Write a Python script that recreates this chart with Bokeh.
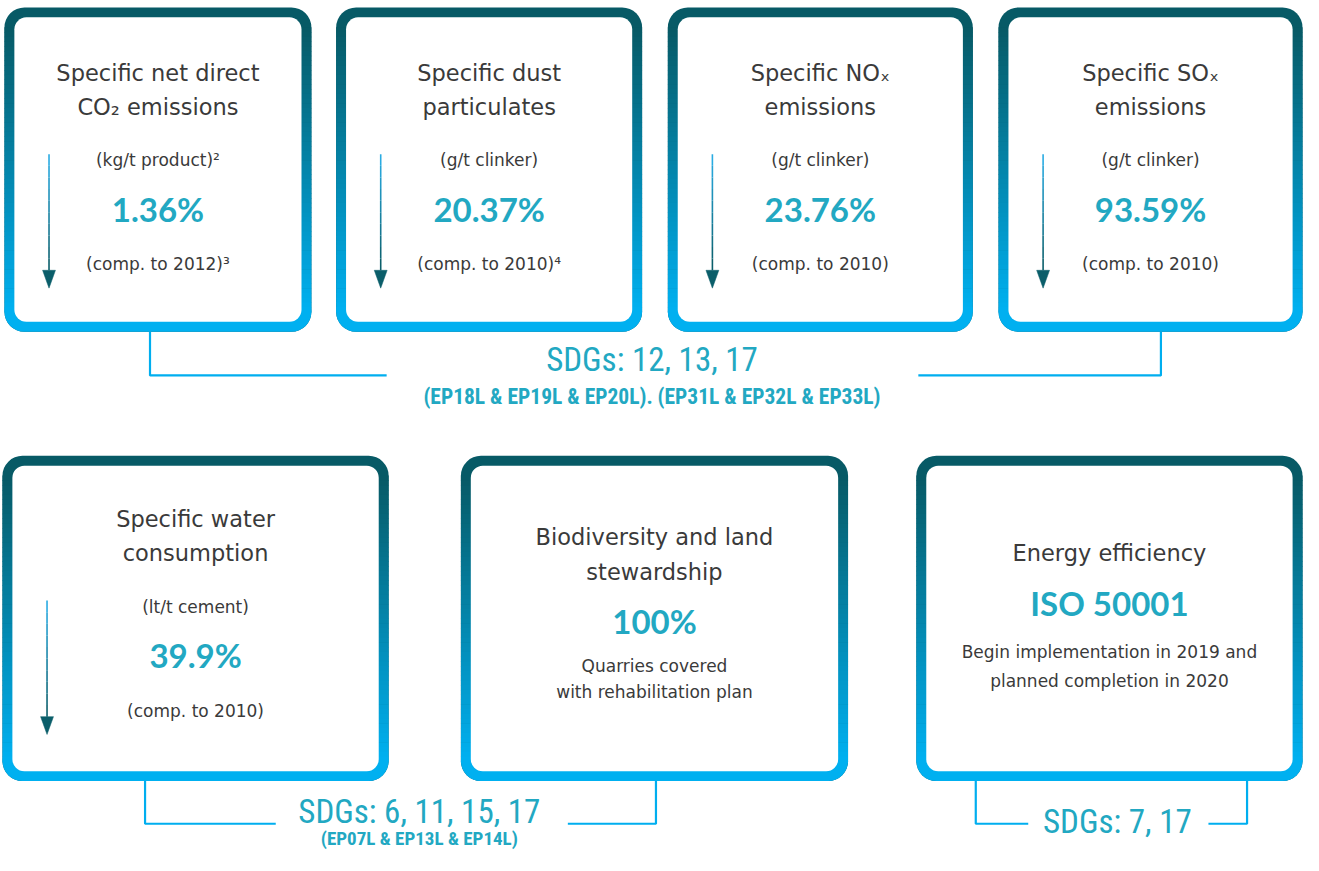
import numpy as np
from bokeh.plotting import figure
from bokeh.models import Range1d
from bokeh.core.properties import value
from bokeh.embed import file_html
from bokeh.resources import INLINE

# ---------------- data ----------------
box_titles = [
    ["Specific net direct", "CO\u2082 emissions"],
    ["Specific dust", "particulates"],
    ["Specific NO\u2093", "emissions"],
    ["Specific SO\u2093", "emissions"],
    ["Specific water", "consumption"],
    ["Biodiversity and land", "stewardship"],
    ["Energy efficiency"],
]
box_units = ["(kg/t product)\u00b2", "(g/t clinker)", "(g/t clinker)", "(g/t clinker)",
             "(lt/t cement)", "", ""]
box_values = ["1.36%", "20.37%", "23.76%", "93.59%", "39.9%", "100%", "ISO 50001"]
box_notes = [
    ["(comp. to 2012)\u00b3"],
    ["(comp. to 2010)\u2074"],
    ["(comp. to 2010)"],
    ["(comp. to 2010)"],
    ["(comp. to 2010)"],
    ["Quarries covered", "with rehabilitation plan"],
    ["Begin implementation in 2019 and", "planned completion in 2020"],
]
box_decrease = [True, True, True, True, True, False, False]
sdg_labels = ["SDGs: 12, 13, 17", "SDGs: 6, 11, 15, 17", "SDGs: 7, 17"]
sdg_codes = ["(EP18L & EP19L & EP20L). (EP31L & EP32L & EP33L)", "(EP07L & EP13L & EP14L)", ""]

# ---------------- layout (reference pixel coordinates) ----------------
box_left = [6, 341, 676, 1010, 4, 467, 927]
box_right = [316, 650, 984, 1317, 394, 858, 1317]
box_top = [7, 7, 7, 7, 459, 459, 459]
box_bottom = [334, 334, 334, 334, 787, 787, 787]
# y offsets (from box top) of: title lines, unit, value, note lines
title_dy = [[66, 100]] * 4 + [[64, 98], [82, 117], [98]]
unit_dy = [154] * 4 + [152, None, None]
value_dy = [203] * 4 + [201, 167, 148]
note_dy = [[259]] * 4 + [[257], [212, 238], [198, 227]]

sdg_x = [660, 425, 1130]
sdg_y = [362, 818, 828]
code_y = [399, 845, None]
code_size = ["21.5px", "19px", "19px"]
connectors = [
    ([153, 153, 392], [334, 378, 378]),
    ([929, 1174, 1174], [378, 378, 334]),
    ([148, 148, 280], [787, 830, 830]),
    ([575, 664, 664], [830, 830, 787]),
    ([987, 987, 1040], [787, 830, 830]),
    ([1222, 1261, 1261], [830, 830, 787]),
]

TOP_C = np.array([7, 90, 102])
BOT_C = np.array([0, 176, 240])
TITLE_C = "#3a3a3a"
ACCENT = "#22a8c2"
LINE_C = "#00aeef"


def hexc(c):
    c = np.clip(np.round(c), 0, 255).astype(int)
    return "#%02x%02x%02x" % tuple(c)


p = figure(width=1303, height=855, output_backend="svg", toolbar_location=None,
           x_axis_type=None, y_axis_type=None,
           x_range=Range1d(2, 1318), y_range=Range1d(862, 0),
           min_border=0, outline_line_color=None, background_fill_color="white")
p.grid.visible = False

R = 20
BW = 10

# outer rounded shapes in top colour
p.quad(left=box_left, right=box_right, top=box_top, bottom=box_bottom,
       fill_color=hexc(TOP_C), line_color=None, border_radius=R)
# bottom cap in bottom colour
p.quad(left=box_left, right=box_right, top=[b - 2 * R for b in box_bottom], bottom=box_bottom,
       fill_color=hexc(BOT_C), line_color=None, border_radius=R)
# gradient bands
N = 60
bl, br, bt, bb, bc = [], [], [], [], []
for l, r, t, b in zip(box_left, box_right, box_top, box_bottom):
    edges = np.linspace(t + R, b - R, N + 1)
    for i in range(N):
        f = i / (N - 1)
        bl.append(l); br.append(r)
        bt.append(edges[i]); bb.append(edges[i + 1] + 0.6)
        bc.append(hexc(TOP_C + (BOT_C - TOP_C) * f))
p.quad(left=bl, right=br, top=bt, bottom=bb, fill_color=bc, line_color=None)
# inner white
p.quad(left=[l + BW for l in box_left], right=[r - BW for r in box_right],
       top=[t + BW for t in box_top], bottom=[b - BW for b in box_bottom],
       fill_color="white", line_color=None, border_radius=R - 8)

# arrows
sx0, sy0, sx1, sy1, sc = [], [], [], [], []
hx, hy = [], []
for i, dec in enumerate(box_decrease):
    if not dec:
        continue
    x = box_left[i] + 45
    y0 = box_top[i] + unit_dy[i] - 6
    y1 = box_top[i] + note_dy[i][0] + 6
    M = 10
    ys = np.linspace(y0, y1, M + 1)
    c0 = np.array([41, 171, 226]); c1 = np.array([11, 95, 107])
    for k in range(M):
        sx0.append(x); sx1.append(x); sy0.append(ys[k]); sy1.append(ys[k + 1])
        sc.append(hexc(c0 + (c1 - c0) * k / (M - 1)))
    hx.append([x - 6.5, x + 6.5, x]); hy.append([y1, y1, y1 + 18])
p.segment(x0=sx0, y0=sy0, x1=sx1, y1=sy1, line_color=sc, line_width=1.6)
p.patches(xs=hx, ys=hy, fill_color="#0b5e6a", line_color="#0b5e6a", line_width=0.5)

# connectors
p.multi_line(xs=[c[0] for c in connectors], ys=[c[1] for c in connectors],
             line_color=LINE_C, line_width=2.2)

# texts
cx = [(l + r) / 2 for l, r in zip(box_left, box_right)]
tx, ty, tt = [], [], []
ux, uy, ut = [], [], []
vx, vy, vt = [], [], []
nx, ny, nt = [], [], []
for i in range(7):
    for s, d in zip(box_titles[i], title_dy[i]):
        tx.append(cx[i]); ty.append(box_top[i] + d); tt.append(s)
    if box_units[i]:
        ux.append(cx[i]); uy.append(box_top[i] + unit_dy[i]); ut.append(box_units[i])
    vx.append(cx[i]); vy.append(box_top[i] + value_dy[i]); vt.append(box_values[i])
    for s, d in zip(box_notes[i], note_dy[i]):
        nx.append(cx[i]); ny.append(box_top[i] + d); nt.append(s)

BODY = "DejaVu Sans"
p.text(x=tx, y=ty, text=tt, text_align="center", text_baseline="middle",
       text_font=value(BODY), text_font_size="22.5px", text_color=TITLE_C)
p.text(x=ux + nx, y=uy + ny, text=ut + nt, text_align="center", text_baseline="middle",
       text_font=value(BODY), text_font_size="17px", text_color=TITLE_C)
p.text(x=vx, y=vy, text=vt, text_align="center", text_baseline="middle",
       text_font=value("Lato"), text_font_style="bold", text_font_size="33px", text_color=ACCENT)

COND = "Liberation Sans Narrow, Roboto Condensed, Roboto"
p.text(x=sdg_x, y=sdg_y, text=sdg_labels, text_align="center", text_baseline="middle",
       text_font=value(COND), text_font_size="33px", text_color=ACCENT)
for x, y, t, fs in zip(sdg_x, code_y, sdg_codes, code_size):
    if y is None or not t:
        continue
    p.text(x=[x], y=[y], text=[t], text_align="center", text_baseline="middle",
           text_font=value(COND), text_font_style="bold", text_font_size=fs, text_color=ACCENT)

open("out.html", "w").write(file_html(p, INLINE))
